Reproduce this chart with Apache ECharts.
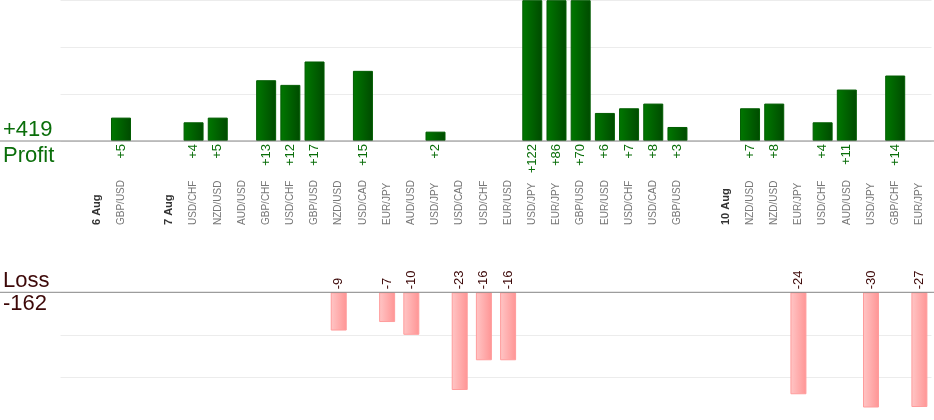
<!DOCTYPE html>
<html>
<head>
<meta charset="utf-8">
<script src="https://cdn.jsdelivr.net/npm/echarts@6/dist/echarts.min.js"></script>
<style>
html,body{margin:0;padding:0;background:#fff;}
#chart{width:934px;height:420px;}
</style>
</head>
<body>
<div id="chart"></div>
<script>
// ---- data ----
const categories = ['', '6 Aug', 'GBP/USD', '', '7 Aug', 'USD/CHF', 'NZD/USD', 'AUD/USD', 'GBP/CHF', 'USD/CHF', 'GBP/USD', 'NZD/USD', 'USD/CAD', 'EUR/JPY', 'AUD/USD', 'USD/JPY', 'USD/CAD', 'USD/CHF', 'EUR/USD', 'USD/JPY', 'EUR/JPY', 'GBP/USD', 'EUR/USD', 'USD/CHF', 'USD/CAD', 'GBP/USD', '', '10 Aug', 'NZD/USD', 'NZD/USD', 'EUR/JPY', 'USD/CHF', 'AUD/USD', 'USD/JPY', 'GBP/CHF', 'EUR/JPY'];
const profit = [null, null, 5, null, null, 4, 5, null, 13, 12, 17, null, 15, null, null, 2, null, null, null, 122, 86, 70, 6, 7, 8, 3, null, null, 7, 8, null, 4, 11, null, 14, null];
const loss = [null, null, null, null, null, null, null, null, null, null, null, -9, null, -7, -10, null, -23, -16, -16, null, null, null, null, null, null, null, null, null, null, null, -24, null, null, -30, null, -27];
const profitAxisTicks = [0, 10, 20, 30];
const lossAxisTicks = [0, 10, 20];
const lossAxisMax = 27;

// ---- layout / style ----
const FONT = "'Liberation Sans', Arial, sans-serif";
const W = 934;
const gridLeft = 60.5, gridWidth = 871;
const topGridTop = 0.7, topGridHeight = 140.3;
const botGridTop = 292.3, botGridHeight = 114.7;
const topBase = topGridTop + topGridHeight;
const botBase = botGridTop;

const totalProfit = profit.reduce((s, v) => s + (v || 0), 0);
const totalLoss = loss.reduce((s, v) => s + (v || 0), 0);

const isDate = s => /\d+ [A-Z][a-z]{2}$/.test(s);
const xData = categories.map(c => isDate(c)
  ? { value: c, textStyle: { fontWeight: 'bold', color: '#333', fontSize: 11, align: 'left', verticalAlign: 'middle' } }
  : { value: c });

const chart = echarts.init(document.getElementById('chart'), null, { renderer: 'canvas' });

const option = {
  animation: false,
  backgroundColor: '#fff',
  textStyle: { fontFamily: FONT },
  grid: [
    { left: gridLeft, top: topGridTop, width: gridWidth, height: topGridHeight },
    { left: gridLeft, top: botGridTop, width: gridWidth, height: botGridHeight }
  ],
  xAxis: [
    {
      type: 'category', gridIndex: 0, data: xData,
      axisLine: { show: false }, axisTick: { show: false },
      axisLabel: {
        interval: 0, rotate: 90, margin: 84, align: 'left', verticalAlign: 'middle',
        color: '#777', fontSize: 10, fontFamily: FONT
      }
    },
    {
      type: 'category', gridIndex: 1, data: categories,
      axisLine: { show: false }, axisTick: { show: false }, axisLabel: { show: false }
    }
  ],
  yAxis: [
    {
      type: 'value', gridIndex: 0, min: profitAxisTicks[0], max: profitAxisTicks[profitAxisTicks.length - 1],
      interval: profitAxisTicks[1] - profitAxisTicks[0],
      axisLine: { show: false }, axisTick: { show: false }, axisLabel: { show: false },
      splitLine: { show: true, lineStyle: { color: '#ececec', width: 1 } }
    },
    {
      type: 'value', gridIndex: 1, inverse: true, min: lossAxisTicks[0], max: lossAxisMax,
      interval: lossAxisTicks[1] - lossAxisTicks[0],
      axisLine: { show: false }, axisTick: { show: false }, axisLabel: { show: false },
      splitLine: { show: true, showMaxLine: false, lineStyle: { color: '#ececec', width: 1 } }
    }
  ],
  series: [
    {
      type: 'bar', xAxisIndex: 0, yAxisIndex: 0, data: profit, barWidth: 20, clip: true,
      itemStyle: {
        color: new echarts.graphic.LinearGradient(0, 0, 1, 0, [
          { offset: 0, color: '#007800' }, { offset: 1, color: '#004a00' }
        ]),
        borderColor: '#005c00', borderWidth: 1
      },
      label: {
        show: true, position: 'bottom', rotate: 90, align: 'right', verticalAlign: 'middle',
        distance: 3, color: '#0a6e0a', fontSize: 13, fontFamily: FONT,
        formatter: p => '+' + p.value
      }
    },
    {
      type: 'bar', xAxisIndex: 1, yAxisIndex: 1,
      data: loss.map(v => v == null ? null : -v), barWidth: 16, clip: true,
      itemStyle: {
        color: new echarts.graphic.LinearGradient(0, 0, 1, 0, [
          { offset: 0, color: '#ffc6c6' }, { offset: 1, color: '#ff9494' }
        ]),
        borderColor: '#ff9c9c', borderWidth: 1
      },
      label: {
        show: true, position: 'top', rotate: 90, align: 'left', verticalAlign: 'middle',
        distance: 3, color: '#3d0808', fontSize: 13, fontFamily: FONT,
        formatter: p => '-' + p.value
      }
    }
  ],
  graphic: [
    { type: 'line', shape: { x1: 0, y1: topBase, x2: W, y2: topBase }, style: { stroke: '#888', lineWidth: 1 }, z: 10 },
    { type: 'line', shape: { x1: 0, y1: botBase, x2: W, y2: botBase }, style: { stroke: '#888', lineWidth: 1 }, z: 10 },
    { type: 'text', left: 3, top: 119, style: { text: '+' + totalProfit, font: '22px ' + FONT, fill: '#0a6e0a' } },
    { type: 'text', left: 3, top: 145, style: { text: 'Profit', font: '22px ' + FONT, fill: '#0a6e0a' } },
    { type: 'text', left: 3, top: 270, style: { text: 'Loss', font: '22px ' + FONT, fill: '#3d0808' } },
    { type: 'text', left: 3, top: 293, style: { text: String(totalLoss), font: '22px ' + FONT, fill: '#3d0808' } }
  ]
};
chart.setOption(option);
</script>
</body>
</html>
